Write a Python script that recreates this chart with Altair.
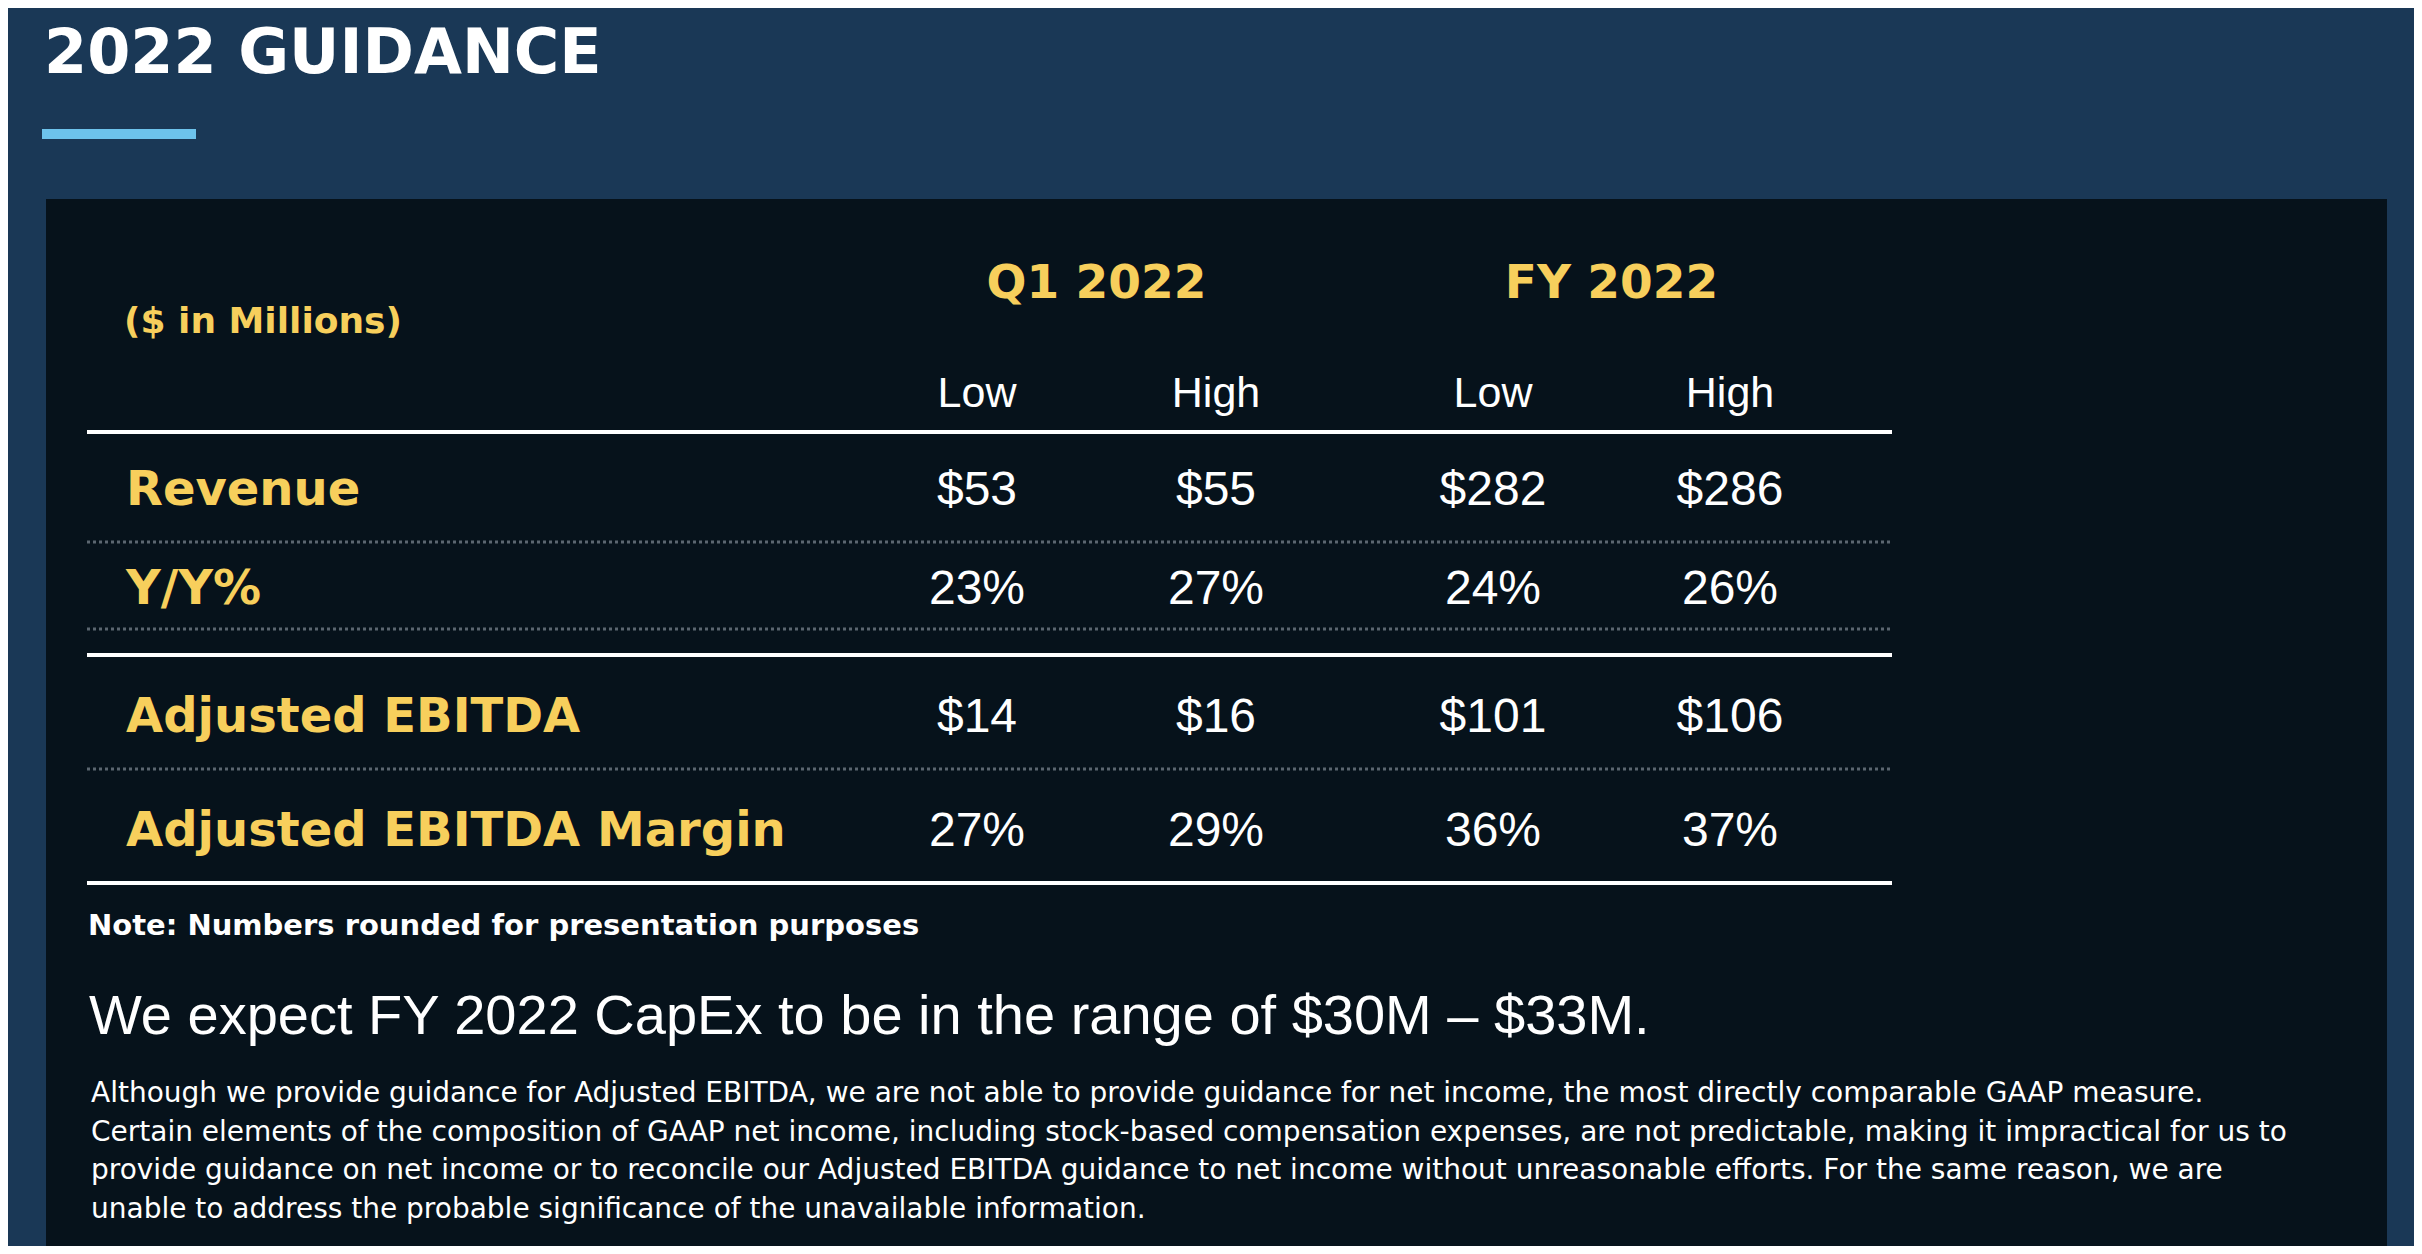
import altair as alt
import pandas as pd

# ---------------- data ----------------
title_text = "2022 GUIDANCE"
units_text = "($ in Millions)"
periods = ["Q1 2022", "FY 2022"]
bounds = ["Low", "High"]
metrics = ["Revenue", "Y/Y%", "Adjusted EBITDA", "Adjusted EBITDA Margin"]
metric_kind = ["$", "%", "$", "%"]
q1_low = [53, 23, 14, 27]
q1_high = [55, 27, 16, 29]
fy_low = [282, 24, 101, 36]
fy_high = [286, 26, 106, 37]
note_text = "Note: Numbers rounded for presentation purposes"
capex_text = "We expect FY 2022 CapEx to be in the range of $30M \u2013 $33M."
disclaimer_lines = [
    "Although we provide guidance for Adjusted EBITDA, we are not able to provide guidance for net income, the most directly comparable GAAP measure.",
    "Certain elements of the composition of GAAP net income, including stock-based compensation expenses, are not predictable, making it impractical for us to",
    "provide guidance on net income or to reconcile our Adjusted EBITDA guidance to net income without unreasonable efforts. For the same reason, we are",
    "unable to address the probable significance of the unavailable information.",
]

# ---------------- styles ----------------
BG = "#1a3856"
BOX = "#06121b"
YELLOW = "#f7cf5c"
ACCENT = "#6dc3ec"
WHITE = "#ffffff"
DOT = "#5b6670"
BOLD_FONT = "DejaVu Sans"
REG_FONT = "Liberation Sans"

W, H = 2406, 1238

# ---------------- tables ----------------
def fmt(v, kind):
    return f"${v}" if kind == "$" else f"{v}%"

cells = []
for ci, col in enumerate([q1_low, q1_high, fy_low, fy_high]):
    for ri, v in enumerate(col):
        cells.append({"col": ci, "row": ri, "label": fmt(v, metric_kind[ri])})
cells_df = pd.DataFrame(cells)

period_df = pd.DataFrame({"col": [0.5, 2.5], "row": [-2, -2], "label": periods})
bound_df = pd.DataFrame({"col": [0, 1, 2, 3], "row": [-1] * 4, "label": bounds * 2})
metric_df = pd.DataFrame({"row": list(range(len(metrics))), "label": metrics})

xscale = alt.Scale(domain=[0, 1, 2, 3], range=[969, 1208, 1485, 1722], nice=False, zero=False)
yscale = alt.Scale(domain=[-2, -1, 0, 1, 2, 3], range=[290, 399, 497, 596, 724, 838], nice=False, zero=False)

X = alt.X("col:Q", scale=xscale, axis=None)
Y = alt.Y("row:Q", scale=yscale, axis=None)

one = lambda t: pd.DataFrame({"t": [t]})

box = alt.Chart(one("box")).mark_rect(color=BOX).encode(
    x=alt.value(38), x2=alt.value(2379), y=alt.value(191), y2=alt.value(H)
)
accent = alt.Chart(one("bar")).mark_rect(color=ACCENT).encode(
    x=alt.value(34), x2=alt.value(188), y=alt.value(121), y2=alt.value(131)
)
title = alt.Chart(one(title_text)).mark_text(
    font=BOLD_FONT, fontWeight="bold", fontSize=62, color=WHITE, align="left", baseline="alphabetic"
).encode(text="t:N", x=alt.value(36), y=alt.value(65))

units = alt.Chart(one(units_text)).mark_text(
    font=BOLD_FONT, fontWeight="bold", fontSize=36, color=YELLOW, align="left", baseline="alphabetic"
).encode(text="t:N", x=alt.value(116), y=alt.value(325))

period_layer = alt.Chart(period_df).mark_text(
    font=BOLD_FONT, fontWeight="bold", fontSize=47, color=YELLOW, align="center", baseline="alphabetic"
).encode(x=X, y=Y, text="label:N")

bound_layer = alt.Chart(bound_df).mark_text(
    font=REG_FONT, fontSize=43, color=WHITE, align="center", baseline="alphabetic"
).encode(x=X, y=Y, text="label:N")

metric_layer = alt.Chart(metric_df).mark_text(
    font=BOLD_FONT, fontWeight="bold", fontSize=48, color=YELLOW, align="left", baseline="alphabetic"
).encode(x=alt.value(118), y=Y, text="label:N")

cell_layer = alt.Chart(cells_df).mark_text(
    font=REG_FONT, fontSize=48, color=WHITE, align="center", baseline="alphabetic"
).encode(x=X, y=Y, text="label:N")

def solid(y):
    return alt.Chart(one("s")).mark_rule(color=WHITE, strokeWidth=4).encode(
        x=alt.value(79), x2=alt.value(1884), y=alt.value(y)
    )

def dotted(y):
    return alt.Chart(one("d")).mark_rule(color=DOT, strokeWidth=3, strokeDash=[3, 3]).encode(
        x=alt.value(79), x2=alt.value(1884), y=alt.value(y)
    )

note = alt.Chart(one(note_text)).mark_text(
    font=BOLD_FONT, fontWeight="bold", fontSize=29, color=WHITE, align="left", baseline="alphabetic"
).encode(text="t:N", x=alt.value(80), y=alt.value(927))

capex = alt.Chart(one(capex_text)).mark_text(
    font=REG_FONT, fontSize=56, color=WHITE, align="left", baseline="alphabetic"
).encode(text="t:N", x=alt.value(81), y=alt.value(1026))

para = alt.Chart(one("\n".join(disclaimer_lines))).mark_text(
    font="DejaVu Sans", fontSize=28, color=WHITE, align="left", baseline="alphabetic",
    lineBreak="\n", lineHeight=38.5
).encode(text="t:N", x=alt.value(83), y=alt.value(1094))

chart = alt.layer(
    box, accent, title, units,
    solid(424), dotted(534), dotted(621), solid(647), dotted(761), solid(875),
    period_layer, bound_layer, metric_layer, cell_layer,
    note, capex, para,
).properties(
    width=W, height=H, background=BG, padding=0, autosize=alt.AutoSizeParams(type="none")
).configure_view(stroke=None)

chart.save("out.html", embed_options={"renderer": "svg", "actions": False})
